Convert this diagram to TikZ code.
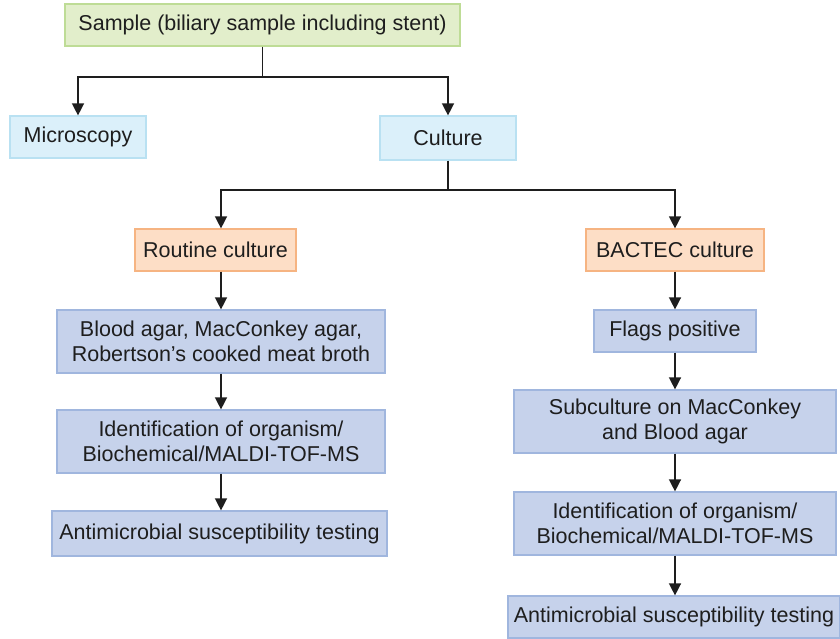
\documentclass[tikz,border=0pt]{standalone}
\usepackage{fontspec}
\setmainfont{Liberation Sans}
\usetikzlibrary{arrows.meta}
\definecolor{gfill}{RGB}{226,238,203}
\definecolor{gline}{RGB}{190,220,150}
\definecolor{cfill}{RGB}{219,240,250}
\definecolor{cline}{RGB}{185,225,242}
\definecolor{ofill}{RGB}{253,222,198}
\definecolor{oline}{RGB}{246,180,130}
\definecolor{bfill}{RGB}{198,210,235}
\definecolor{bline}{RGB}{160,182,222}
\definecolor{txt}{RGB}{30,30,30}
\tikzset{
  x=1pt,y=-1pt,
  boxbase/.style={draw,line width=1.2pt,inner sep=0pt,align=center,text=txt,
    font=\fontsize{21.5}{24.5}\selectfont},
  greenbox/.style={boxbase,fill=gfill,draw=gline},
  cyanbox/.style={boxbase,fill=cfill,draw=cline},
  orangebox/.style={boxbase,fill=ofill,draw=oline},
  bluebox/.style={boxbase,fill=bfill,draw=bline},
  arr/.style={line width=1.4pt,color=txt,-{Triangle[width=12pt,length=12pt]}},
  ln/.style={line width=1.4pt,color=txt}
}
\begin{document}
\begin{tikzpicture}
\useasboundingbox (0,0) rectangle (840,638);
\node[greenbox,minimum width=395pt,minimum height=42pt] (sample) at (262.5,25) {Sample (biliary sample including stent)};
\node[cyanbox,minimum width=136pt,minimum height=42pt] (micro) at (78,137) {Microscopy};
\node[cyanbox,minimum width=136pt,minimum height=44pt] (culture) at (448,138) {Culture};
\node[orangebox,minimum width=161pt,minimum height=42pt] (routine) at (215.5,250) {Routine culture};
\node[orangebox,minimum width=178pt,minimum height=42pt] (bactec) at (675,250) {BACTEC culture};
\node[bluebox,minimum width=328pt,minimum height=63pt] (blood) at (221,341.5) {Blood agar, MacConkey agar,\\Robertson’s cooked meat broth};
\node[bluebox,minimum width=328pt,minimum height=63pt] (idl) at (221,441.5) {Identification of organism/\\Biochemical/MALDI-TOF-MS};
\node[bluebox,minimum width=335pt,minimum height=45pt] (aml) at (219.5,533.5) {Antimicrobial susceptibility testing};
\node[bluebox,minimum width=162pt,minimum height=42pt] (flags) at (675,331) {Flags positive};
\node[bluebox,minimum width=322pt,minimum height=63pt] (sub) at (675,421.5) {Subculture on MacConkey\\and Blood agar};
\node[bluebox,minimum width=322pt,minimum height=63pt] (idr) at (675,523.5) {Identification of organism/\\Biochemical/MALDI-TOF-MS};
\node[bluebox,minimum width=332pt,minimum height=42pt] (amr) at (674,617) {Antimicrobial susceptibility testing};
\coordinate (j1) at (262.5,77);
\coordinate (j2) at (448,190);
\draw[ln] (sample.south) -- (j1);
\draw[arr] (j1) -| (micro.north);
\draw[arr] (j1) -| (culture.north);
\draw[ln] (culture.south) -- (j2);
\draw[arr] (j2) -| ([xshift=5.5pt]routine.north);
\draw[arr] (j2) -| (bactec.north);
\draw[arr] ([xshift=5.5pt]routine.south) -- (blood.north);
\draw[arr] (blood.south) -- (idl.north);
\draw[arr] (idl.south) -- ([xshift=1.5pt]aml.north);
\draw[arr] (bactec.south) -- (flags.north);
\draw[arr] (flags.south) -- (sub.north);
\draw[arr] (sub.south) -- (idr.north);
\draw[arr] (idr.south) -- ([xshift=1pt]amr.north);
\end{tikzpicture}
\end{document}
